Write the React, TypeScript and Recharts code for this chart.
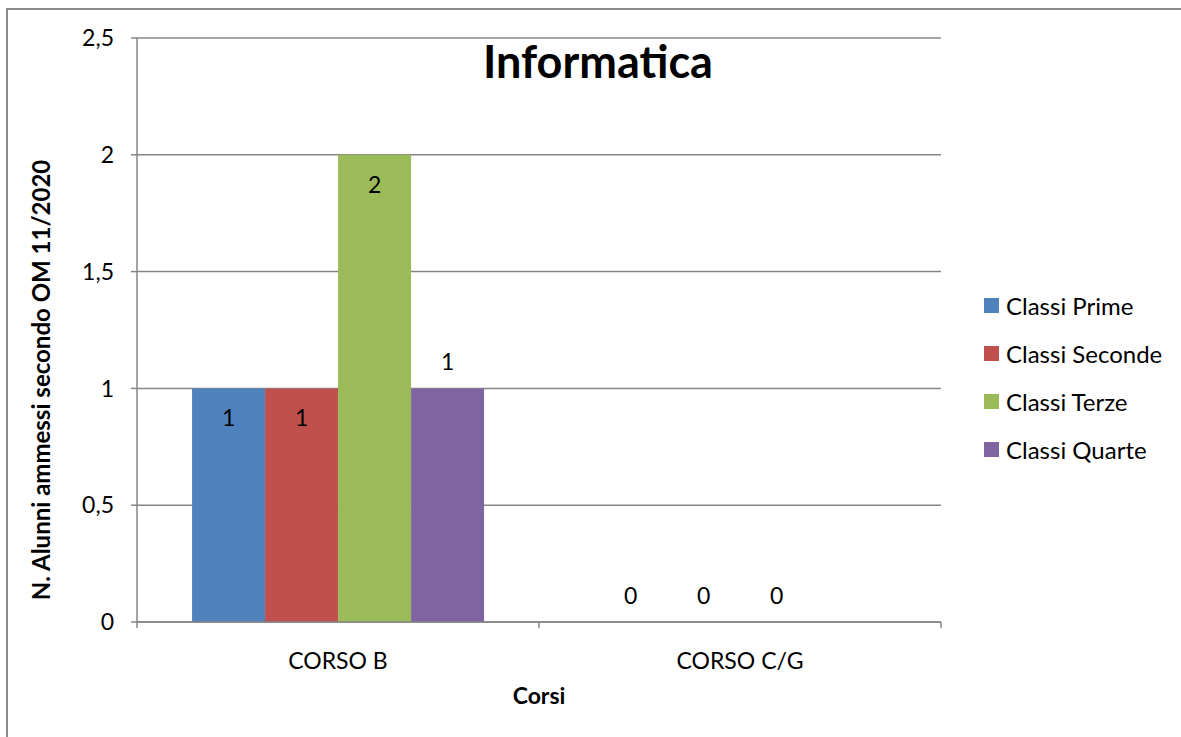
import { BarChart, Bar, XAxis, YAxis, CartesianGrid, Legend, LabelList } from 'recharts';

// values
const categories = ['CORSO B', 'CORSO C/G'];
const classiPrime = [1, 0];
const classiSeconde = [1, 0];
const classiTerze = [2, 0];
const classiQuarte: (number | null)[] = [1, null];
const yTicks = [0, 0.5, 1, 1.5, 2, 2.5];

const series = [
  { key: 'prime', name: 'Classi Prime', color: '#4F81BD', inside: true },
  { key: 'seconde', name: 'Classi Seconde', color: '#C0504D', inside: true },
  { key: 'terze', name: 'Classi Terze', color: '#9BBB59', inside: true },
  { key: 'quarte', name: 'Classi Quarte', color: '#8064A2', inside: false },
];

const data = categories.map((c, i) => ({
  name: c,
  prime: classiPrime[i],
  seconde: classiSeconde[i],
  terze: classiTerze[i],
  quarte: classiQuarte[i],
}));

const FONT = 'Lato, "Open Sans", sans-serif';
const AXIS = '#868686';
const BAND = 402;

const fmt = (v: number) => String(v).replace('.', ',');

// zero values get a hairline bar so the label still shows
const tinyForZero = (v: any) => (v === 0 ? 0.01 : 0);

function makeLabel(inside: boolean) {
  return (props: any) => {
    const { x, y, width, value } = props;
    if (value === null || value === undefined) return null;
    const cy = value > 0 && inside ? y + 29 : y - 27;
    return (
      <text x={x + width / 2} y={cy} textAnchor="middle" dominantBaseline="central"
        fontSize={23} fontFamily={FONT} fill="#000">
        {value}
      </text>
    );
  };
}

function XTick(props: any) {
  const { x, y, payload, index } = props;
  const edge = x - BAND / 2;
  return (
    <g>
      <line x1={edge} x2={edge} y1={y - 8} y2={y - 2} stroke={AXIS} strokeWidth={1.5} />
      {index === categories.length - 1 && (
        <line x1={x + BAND / 2} x2={x + BAND / 2} y1={y - 8} y2={y - 2} stroke={AXIS} strokeWidth={1.5} />
      )}
      <text x={x} y={y + 30} textAnchor="middle" dominantBaseline="central" fontSize={23} fontFamily={FONT} fill="#000">
        {payload.value}
      </text>
    </g>
  );
}

function LegendBox() {
  return (
    <div style={{ fontFamily: FONT, fontSize: 24, color: '#000' }}>
      {series.map((s) => (
        <div key={s.key} style={{ display: 'flex', alignItems: 'center', height: 48 }}>
          <span style={{ width: 15, height: 15, background: s.color, marginRight: 7 }} />
          <span>{s.name}</span>
        </div>
      ))}
    </div>
  );
}

export default function App() {
  return (
    <div style={{ position: 'relative', width: 1181, height: 737, overflow: 'hidden', background: '#fff' }}>
      <style>{`body{margin:0;overflow:hidden}`}</style>
      <div style={{ position: 'absolute', left: 6, top: 8, width: 1300, height: 900, border: '2px solid #8c8c8c' }} />
      <div style={{ position: 'absolute', left: 0, top: 0 }}>
        <BarChart width={1181} height={737} data={data}
          margin={{ top: 38, right: 240, bottom: 75, left: 0 }}
          barCategoryGap="13.7%" barGap={0}>
          <CartesianGrid vertical={false} stroke={AXIS} strokeWidth={1.5} />
          <XAxis dataKey="name" height={40} stroke={AXIS} strokeWidth={1.5}
            tickLine={false} tick={<XTick />} interval={0}
            label={{ value: 'Corsi', position: 'insideBottom', offset: -42, fontSize: 23, fontWeight: 'bold', fontFamily: FONT, fill: '#000' }} />
          <YAxis width={137} domain={[0, 2.5]} ticks={yTicks} interval={0}
            stroke={AXIS} strokeWidth={1.5} tickSize={6} tickMargin={17} tickLine={{ stroke: AXIS }}
            tickFormatter={fmt}
            tick={{ fontSize: 23, fontFamily: FONT, fill: '#000' }}
            label={{
              content: () => (
                <text x={40} y={380} transform="rotate(-90 40 380)" textAnchor="middle" dominantBaseline="central"
                  fontSize={24} fontWeight="bold" fontFamily={FONT} fill="#000">
                  N. Alunni ammessi secondo OM 11/2020
                </text>
              ),
            }} />
          <Legend layout="vertical" align="center" verticalAlign="middle" content={<LegendBox />}
            wrapperStyle={{ left: 984, top: 281, width: 197, height: 200 }} />
          {series.map((s) => (
            <Bar key={s.key} dataKey={s.key} name={s.name} fill={s.color} isAnimationActive={false}
              minPointSize={tinyForZero}>
              <LabelList dataKey={s.key} content={makeLabel(s.inside)} />
            </Bar>
          ))}
          <text x={598} y={61} textAnchor="middle" dominantBaseline="central"
            fontSize={45} fontWeight="bold" fontFamily={FONT} fill="#000">
            Informatica
          </text>
        </BarChart>
      </div>
    </div>
  );
}
